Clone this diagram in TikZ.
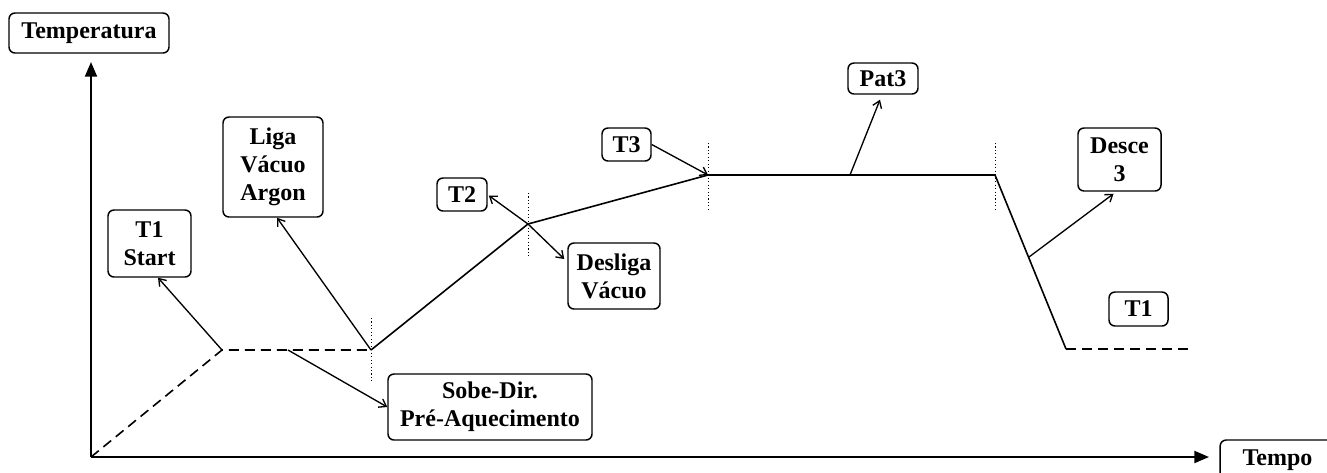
\documentclass[tikz,border=0pt]{standalone}
\usepackage{fontspec}
\setmainfont{Liberation Serif}
\usetikzlibrary{arrows.meta,calc}
\tikzset{
  lbl/.style={draw, line width=1.1pt, rounded corners=4.5pt, inner sep=0pt, align=center,
    font=\fontsize{18}{21}\selectfont\bfseries},
  curve/.style={line width=1.2pt},
  dashcurve/.style={line width=1.2pt, dash pattern=on 7.5pt off 4.5pt},
  axis/.style={line width=1.5pt, -{Triangle[length=11pt,width=9pt]}},
  pointer/.style={line width=1pt, -{Straight Barb[length=5pt,width=7pt]}},
  mark line/.style={line width=0.7pt, dash pattern=on 0.8pt off 1.8pt}
}
\begin{document}
\begin{tikzpicture}[x=0.75pt,y=-0.75pt]
\useasboundingbox (0,0) rectangle (1327,472);
\clip (0,0) rectangle (1327,472);
% key points
\coordinate (o) at (91,457);
\coordinate (ytip) at (91,62);
\coordinate (xtip) at (1209,457);
\coordinate (p1) at (222,350);
\coordinate (ps) at (288,350);
\coordinate (p2) at (371,350);
\coordinate (p3) at (528,224);
\coordinate (p4) at (708,175);
\coordinate (pp) at (850,175);
\coordinate (p5) at (995,175);
\coordinate (pd) at (1029,257);
\coordinate (p6) at (1066,349);
\coordinate (pend) at (1188,349);
\coordinate (d2a) at (371,318);
\coordinate (d2b) at (371,383);
\coordinate (d3a) at (528,193);
\coordinate (d3b) at (528,258);
\coordinate (d4a) at (708,143);
\coordinate (d4b) at (708,209);
\coordinate (d5a) at (995,143);
\coordinate (d5b) at (995,209);
% labels
\node[lbl, minimum width=120pt, minimum height=30pt] (temp) at (89,33) {Temperatura};
\node[lbl, minimum width=86pt, minimum height=30pt] (tempo) at (1277.5,460) {Tempo};
\node[lbl, minimum width=62.25pt, minimum height=50.25pt] (t1s) at (149.5,243.5) {T1\\Start};
\node[lbl, minimum width=75pt, minimum height=75pt] (liga) at (273,167) {Liga\\Vácuo\\Argon};
\node[lbl, minimum width=153pt, minimum height=49.5pt] (sobe) at (490,407) {Sobe-Dir.\\Pré-Aquecimento};
\node[lbl, minimum width=37.5pt, minimum height=24.75pt] (t2) at (462,194.5) {T2};
\node[lbl, minimum width=69pt, minimum height=49.5pt] (desliga) at (614,276) {Desliga\\Vácuo};
\node[lbl, minimum width=36.75pt, minimum height=24.75pt] (t3) at (626.5,144.5) {T3};
\node[lbl, minimum width=52.5pt, minimum height=23.25pt] (pat3) at (883,78.5) {Pat3};
\node[lbl, minimum width=62.25pt, minimum height=47.25pt] (desce) at (1119.5,159.5) {Desce\\3};
\node[lbl, minimum width=44.25pt, minimum height=25.5pt] (t1) at (1138.5,309) {T1};
% axes
\draw[axis] (o) -- (ytip);
\draw[axis] (o) -- (xtip);
% curve
\draw[dashcurve] (o) -- (p1) -- (p2);
\draw[curve] (p2) -- (p3) -- (p4) -- (p5) -- (p6);
\draw[dashcurve] (p6) -- (pend);
% dotted markers
\draw[mark line] (d2a) -- (d2b);
\draw[mark line] (d3a) -- (d3b);
\draw[mark line] (d4a) -- (d4b);
\draw[mark line] (d5a) -- (d5b);
% pointers
\draw[pointer] (p1) -- ($(t1s.south)+(8.5,0)$);
\draw[pointer] (p2) -- ($(liga.south)+(4,0)$);
\draw[pointer] (ps) -- (sobe.west);
\draw[pointer] (p3) -- ($(t2.east)+(1,1)$);
\draw[pointer] (p3) -- ($(desliga.west)+(-3,-17)$);
\draw[pointer] (t3.east) -- (p4);
\draw[pointer] (pp) -- ($(pat3.south)+(-3,5)$);
\draw[pointer] (pd) -- ($(desce.south)+(-6,2)$);
\end{tikzpicture}
\end{document}
